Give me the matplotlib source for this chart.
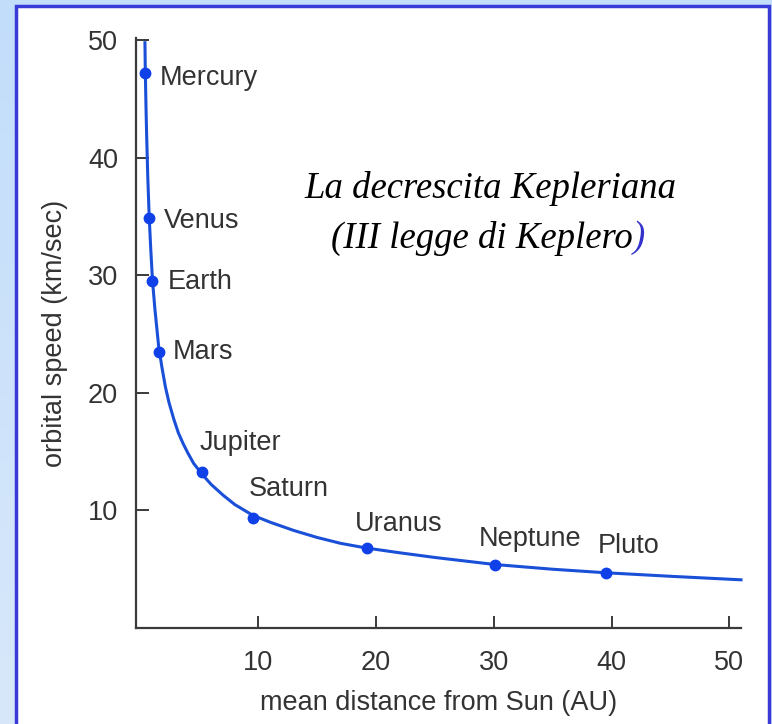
import numpy as np
import matplotlib
matplotlib.use("Agg")
import matplotlib.pyplot as plt
from matplotlib.patches import Rectangle
from matplotlib.colors import LinearSegmentedColormap

# ---- data ----
planets = ["Mercury", "Venus", "Earth", "Mars", "Jupiter", "Saturn", "Uranus", "Neptune", "Pluto"]
distance_au = [0.39, 0.72, 1.0, 1.52, 5.2, 9.5, 19.2, 30.1, 39.5]
speed_kms = [47.2, 34.9, 29.5, 23.5, 13.3, 9.4, 6.8, 5.4, 4.7]

curve_au = [0.36, 0.39, 0.45, 0.5, 0.6, 0.72, 0.85, 1.0, 1.2, 1.52, 1.8, 2.1, 2.4, 2.8, 3.2,
            3.6, 4.0, 4.5, 5.2, 6.0, 7.0, 8.0, 9.5, 11.0, 13.0, 15.0, 17.0, 19.2, 22.0,
            25.0, 30.1, 35.0, 39.5, 45.0, 51.0]
curve_kms = [49.8, 47.4, 44.3, 42.1, 38.4, 35.0, 32.3, 29.6, 27.2, 24.0, 22.2, 20.5, 19.2,
             17.8, 16.6, 15.7, 14.9, 14.0, 13.1, 12.2, 11.3, 10.5, 9.6, 9.0, 8.3, 7.7,
             7.2, 6.8, 6.4, 6.0, 5.4, 5.0, 4.7, 4.4, 4.1]

xticks = [10, 20, 30, 40, 50]
yticks = [10, 20, 30, 40, 50]

W, H = 772, 724
fig = plt.figure(figsize=(W / 100, H / 100), dpi=100)

px = lambda x: x / W
py = lambda y: 1 - y / H

# background gradient + white panel
bg = fig.add_axes([0, 0, 1, 1], zorder=-5)
grad = np.linspace(0, 1, 256).reshape(-1, 1)
cmap = LinearSegmentedColormap.from_list("bg", ["#c2ddfa", "#d8e8fb"])
bg.imshow(grad, aspect="auto", cmap=cmap, extent=[0, 1, 0, 1], origin="upper", zorder=0)
bg.set_xlim(0, 1)
bg.set_ylim(0, 1)
bg.axis("off")
panel = Rectangle((px(16), py(740)), px(769) - px(16), py(6) - py(740),
                  transform=bg.transAxes, facecolor="white", edgecolor="#3a3ad8",
                  linewidth=2.5, zorder=2, clip_on=False)
bg.add_patch(panel)

ax = fig.add_axes([px(136), py(628), px(741) - px(136), py(38) - py(628)], zorder=1)
ax.set_facecolor("none")
ax.set_xlim(-0.4, 51)
ax.set_ylim(0, 50.2)

axis_col = "#3a3a3a"
txt_col = "#333333"
fs = 19.5
for s in ["top", "right"]:
    ax.spines[s].set_visible(False)
for s in ["left", "bottom"]:
    ax.spines[s].set_color(axis_col)
    ax.spines[s].set_linewidth(1.6)

ax.plot(curve_au, curve_kms, color="#1a4fd8", linewidth=2.2, zorder=3, clip_on=False,
        solid_joinstyle="round")
ax.plot(distance_au, speed_kms, "o", color="#1040e8", markersize=7.5, zorder=4, clip_on=False)

label_offsets = {
    "Mercury": (14, -5), "Venus": (15, -3), "Earth": (15, -1), "Mars": (14, 0),
    "Jupiter": (-2, 29), "Saturn": (-4, 29), "Uranus": (-12, 24),
    "Neptune": (-16, 26), "Pluto": (-8, 27),
}
for name, x, y in zip(planets, distance_au, speed_kms):
    dx, dy = label_offsets[name]
    ax.annotate(name, (x, y), xytext=(dx, dy), textcoords="offset pixels",
                ha="left", va="center", fontsize=fs, color=txt_col,
                family="Liberation Sans")

ax.set_xticks(xticks)
ax.set_yticks(yticks)
ax.tick_params(direction="in", length=9, width=1.4, color=axis_col,
               labelsize=fs, labelcolor=txt_col)
ax.tick_params(axis="y", pad=13)
ax.tick_params(axis="x", pad=16)
for lab in ax.get_xticklabels() + ax.get_yticklabels():
    lab.set_family("Liberation Sans")

ax.set_xlabel("mean distance from Sun (AU)", fontsize=fs, color=txt_col,
              family="Liberation Sans", labelpad=10)
ax.set_ylabel("orbital speed (km/sec)", fontsize=fs, color=txt_col,
              family="Liberation Sans", labelpad=14)

tfs = 26.5
fig.text(px(490), py(188), "La decrescita Kepleriana", ha="center", va="center",
         fontsize=tfs, style="italic", family="Liberation Serif", color="black")
t2 = fig.text(px(482), py(238), "(III legge di Keplero", ha="center", va="center",
              fontsize=tfs, style="italic", family="Liberation Serif", color="black")
fig.canvas.draw()
bb = t2.get_window_extent()
fig.text(bb.x1 / W, py(238), ")", ha="left", va="center", fontsize=tfs, style="italic",
         family="Liberation Serif", color="#3333cc")

fig.savefig("out.png", dpi=100)
